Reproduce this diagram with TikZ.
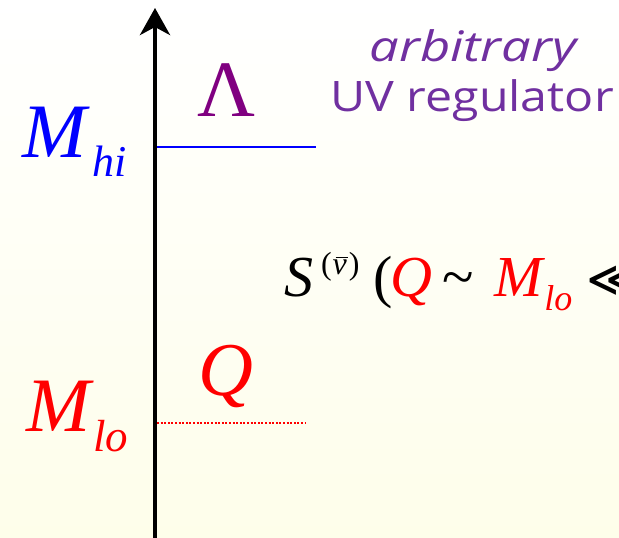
\documentclass[tikz,border=0pt]{standalone}
\usepackage{fontspec}
\setmainfont{Liberation Serif}
\newfontfamily\notefont{Open Sans}
\newfontfamily\relfont{DejaVu Sans}
\usetikzlibrary{arrows.meta}
\definecolor{notepurple}{RGB}{112,48,160}
\definecolor{cutpurple}{RGB}{128,0,128}
\definecolor{paleyellow}{RGB}{254,254,234}
\newcommand{\fsz}[1]{\fontsize{#1}{#1}\selectfont}
\newcommand{\nubar}{\rlap{\kern3pt\rule[17pt]{12pt}{1.2pt}}ν}

\begin{document}
\begin{tikzpicture}[x=1pt,y=1pt,
  lbl/.style={inner sep=0pt, outer sep=0pt},
  level hi/.style={blue, line width=1.8pt},
  level lo/.style={red, line width=1.6pt, dash pattern=on 2pt off 1.6pt}]
\useasboundingbox (0,0) rectangle (619,538);
\shade[top color=white, middle color=white, bottom color=paleyellow] (0,0) rectangle (619,538);

% scale axis
\coordinate (axbot) at (155,-5);
\coordinate (axtop) at (155,530);
\draw[line width=4.5pt, -{Stealth[length=27pt, width=30pt, inset=8pt]}] (axbot) -- (axtop);

% levels
\coordinate (hiL) at (157,391);
\coordinate (hiR) at (316,391);
\coordinate (loL) at (157,115);
\coordinate (loR) at (305,115);
\draw[level hi] (hiL) -- (hiR);
\draw[level lo] (loL) -- (loR);

% labels
\node[lbl, anchor=base west, text=blue] (mhi) at (23,380)
  {\fsz{77}\itshape M\kern5pt\raisebox{-19pt}{\fsz{44}hi}};
\node[lbl, anchor=base west, text=red] (mlo) at (27,106)
  {\fsz{77}\itshape M\kern2pt\raisebox{-20pt}{\fsz{45}lo}};
\node[lbl, anchor=base, text=cutpurple] (lambda) at (227,421) {\fsz{80}Λ};
\node[lbl, anchor=base, text=red] (q) at (226,142) {\fsz{76}\itshape Q};

\node[lbl, anchor=base, text=notepurple, font=\notefont\itshape\fsz{42}] (arb) at (473,476) {\scalebox{1.25}[1]{arbitrary}};
\node[lbl, anchor=base, text=notepurple, font=\notefont\fsz{42}] (uvreg) at (472,426) {\scalebox{1.15}[1]{UV regulator}};

\node[lbl, anchor=base west] (expr) at (284,241)
  {\fsz{58}\itshape S\kern8pt\raisebox{22pt}{\fsz{32}\upshape(\kern1pt\itshape\nubar\kern2pt\upshape)}\kern14pt\upshape(%
   \kern-2pt\textcolor{red}{\itshape Q}\kern10pt\char"7E\kern20pt\textcolor{red}{\itshape M\kern2pt\raisebox{-14pt}{\fsz{36}lo}}\kern14pt{\relfont\fsz{50}≪}};
\end{tikzpicture}
\end{document}
